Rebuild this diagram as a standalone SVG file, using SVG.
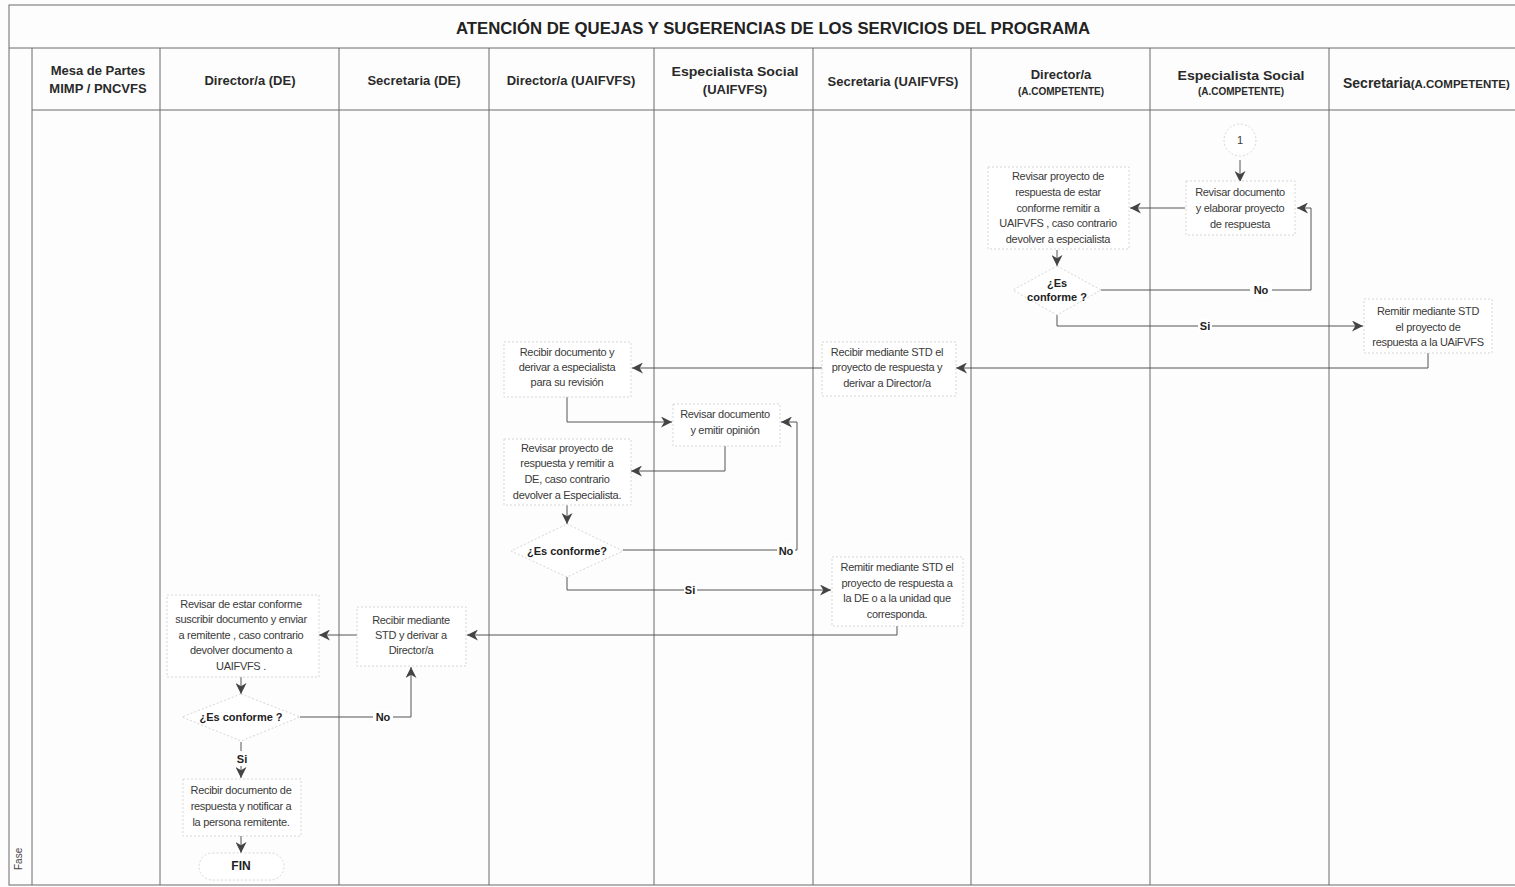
<svg xmlns="http://www.w3.org/2000/svg" width="1515" height="887" viewBox="0 0 1515 887">
<style>
.lane{stroke:#6a6a6a;stroke-width:1;fill:none}
.hd{font-family:"Liberation Sans",Arial,sans-serif;font-weight:bold;font-size:13px;fill:#2a2a2a;text-anchor:middle}
.hl{font-family:"Liberation Sans",Arial,sans-serif;font-weight:bold;font-size:14px;fill:#2a2a2a;text-anchor:start}
.hs{font-family:"Liberation Sans",Arial,sans-serif;font-weight:bold;font-size:10px;fill:#2a2a2a}
.hs2{font-family:"Liberation Sans",Arial,sans-serif;font-weight:bold;font-size:11.5px;fill:#2a2a2a}
.tt{font-family:"Liberation Sans",Arial,sans-serif;font-weight:bold;font-size:16px;fill:#222;text-anchor:middle}
.box{fill:#fff;stroke:#d6d6d6;stroke-width:1;stroke-dasharray:2 2}
.tx{font-family:"Liberation Sans",Arial,sans-serif;font-size:11px;fill:#3a3a3a;text-anchor:middle;letter-spacing:-0.3px}
.dt{font-family:"Liberation Sans",Arial,sans-serif;font-size:11px;font-weight:bold;fill:#222;text-anchor:middle}
.fin{font-family:"Liberation Sans",Arial,sans-serif;font-size:12px;font-weight:bold;fill:#222;text-anchor:middle}
.cn{fill:none;stroke:#555;stroke-width:1}
.ar{marker-end:url(#ah)}
.lb{font-family:"Liberation Sans",Arial,sans-serif;font-size:11px;font-weight:bold;fill:#222;text-anchor:middle}
.lbg{fill:#fff}
.fase{font-family:"Liberation Sans",Arial,sans-serif;font-size:10px;fill:#444}
</style>
<defs>
<marker id="ah" viewBox="0 0 10 10" refX="10" refY="5" markerWidth="11" markerHeight="11" markerUnits="userSpaceOnUse" orient="auto">
<path d="M0,0 L10,5 L0,10 L3,5 z" fill="#444"/>
</marker>
</defs>
<rect x="0" y="0" width="1515" height="887" fill="#fdfdfd"/>
<g id="frame">
<rect x="9" y="5" width="1520" height="880" class="lane"/>
<line x1="9" y1="48" x2="1515" y2="48" class="lane"/>
<line x1="32" y1="110" x2="1515" y2="110" class="lane"/>
<line x1="32" y1="48" x2="32" y2="885" class="lane"/>
<line x1="160" y1="48" x2="160" y2="885" class="lane"/>
<line x1="339" y1="48" x2="339" y2="885" class="lane"/>
<line x1="489" y1="48" x2="489" y2="885" class="lane"/>
<line x1="654" y1="48" x2="654" y2="885" class="lane"/>
<line x1="813" y1="48" x2="813" y2="885" class="lane"/>
<line x1="971" y1="48" x2="971" y2="885" class="lane"/>
<line x1="1150" y1="48" x2="1150" y2="885" class="lane"/>
<line x1="1329" y1="48" x2="1329" y2="885" class="lane"/>
</g>
<g id="header">
<text x="773" y="34" class="tt" textLength="634" lengthAdjust="spacingAndGlyphs">ATENCIÓN DE QUEJAS Y SUGERENCIAS DE LOS SERVICIOS DEL PROGRAMA</text>
<text x="98" y="75" class="hd">Mesa de Partes</text>
<text x="98" y="93" class="hd">MIMP / PNCVFS</text>
<text x="250" y="85" class="hd">Director/a (DE)</text>
<text x="414" y="85" class="hd">Secretaria (DE)</text>
<text x="571" y="85" class="hd">Director/a (UAIFVFS)</text>
<text x="735" y="76" class="hd" textLength="127" lengthAdjust="spacingAndGlyphs">Especialista Social</text>
<text x="735" y="94" class="hd">(UAIFVFS)</text>
<text x="893" y="86" class="hd">Secretaria (UAIFVFS)</text>
<text x="1061" y="79" class="hd">Director/a</text>
<text x="1061" y="95" class="hs" text-anchor="middle">(A.COMPETENTE)</text>
<text x="1241" y="80" class="hd" textLength="127" lengthAdjust="spacingAndGlyphs">Especialista Social</text>
<text x="1241" y="95" class="hs" text-anchor="middle">(A.COMPETENTE)</text>
<text x="1343" y="88" class="hl">Secretaria<tspan class="hs2">(A.COMPETENTE)</tspan></text>
<text x="22" y="870" transform="rotate(-90 22 870)" class="fase">Fase</text>
</g>
<g id="connectors">
<line x1="1240" y1="160" x2="1240" y2="182" class="cn ar"/>
<line x1="1185" y1="208" x2="1130" y2="208" class="cn ar"/>
<line x1="1057" y1="250" x2="1057" y2="266" class="cn ar"/>
<polyline points="1101,290 1311,290 1311,208 1297,208" class="cn ar"/>
<polyline points="1057,315 1057,326 1363,326" class="cn ar"/>
<polyline points="1428,353 1428,368 956,368" class="cn ar"/>
<line x1="822" y1="368" x2="632" y2="368" class="cn ar"/>
<polyline points="567,397 567,422 672,422" class="cn ar"/>
<polyline points="725,446 725,471 631,471" class="cn ar"/>
<line x1="567" y1="505" x2="567" y2="524" class="cn ar"/>
<polyline points="623,550 797,550 797,422 781,422" class="cn ar"/>
<polyline points="567,577 567,590 831,590" class="cn ar"/>
<polyline points="897,626 897,635 467,635" class="cn ar"/>
<line x1="357" y1="635" x2="319" y2="635" class="cn ar"/>
<line x1="241" y1="677" x2="241" y2="694" class="cn ar"/>
<polyline points="300,717 411,717 411,667" class="cn ar"/>
<line x1="241" y1="742" x2="241" y2="751" class="cn"/>
<line x1="241" y1="766" x2="241" y2="778" class="cn ar"/>
<line x1="241" y1="836" x2="241" y2="853" class="cn ar"/>
<rect x="1250" y="283" width="22" height="14" class="lbg"/>
<text x="1261" y="294" class="lb">No</text>
<rect x="1198" y="319" width="14" height="14" class="lbg"/>
<text x="1205" y="330" class="lb">Si</text>
<rect x="777" y="543" width="18" height="14" class="lbg"/>
<text x="786" y="555" class="lb">No</text>
<rect x="684" y="583" width="13" height="14" class="lbg"/>
<text x="690" y="594" class="lb">Si</text>
<rect x="373" y="710" width="20" height="14" class="lbg"/>
<text x="383" y="721" class="lb">No</text>
<text x="242" y="763" class="lb">Si</text>
</g>
<g id="n_start">
<circle cx="1240" cy="140" r="16" class="box"/>
<text x="1240" y="144" class="tx">1</text>
</g>
<g id="n_esp_ac">
<rect x="1186" y="181" width="109" height="54" class="box"/>
<text class="tx"><tspan x="1240" y="196">Revisar documento</tspan><tspan x="1240" y="212">y elaborar proyecto</tspan><tspan x="1240" y="228">de respuesta</tspan></text>
</g>
<g id="n_dir_ac">
<rect x="988" y="167" width="141" height="82" class="box"/>
<text class="tx"><tspan x="1058" y="180">Revisar proyecto de</tspan><tspan x="1058" y="196">respuesta de estar</tspan><tspan x="1058" y="212">conforme remitir a</tspan><tspan x="1058" y="227">UAIFVFS , caso contrario</tspan><tspan x="1058" y="243">devolver a especialista</tspan></text>
</g>
<g id="d_ac">
<polygon points="1057,266 1101,290 1057,315 1013,290" class="box"/>
<text class="dt"><tspan x="1057" y="287">¿Es</tspan><tspan x="1057" y="301">conforme ?</tspan></text>
</g>
<g id="n_sec_ac">
<rect x="1364" y="299" width="128" height="54" class="box"/>
<text class="tx"><tspan x="1428" y="315">Remitir mediante STD</tspan><tspan x="1428" y="331">el proyecto de</tspan><tspan x="1428" y="346">respuesta a la UAiFVFS</tspan></text>
</g>
<g id="n_sec_u">
<rect x="822" y="342" width="134" height="54" class="box"/>
<text class="tx"><tspan x="887" y="356">Recibir mediante STD el</tspan><tspan x="887" y="371">proyecto de respuesta y</tspan><tspan x="887" y="387">derivar a Director/a</tspan></text>
</g>
<g id="n_dir_u1">
<rect x="504" y="342" width="127" height="55" class="box"/>
<text class="tx"><tspan x="567" y="356">Recibir documento y</tspan><tspan x="567" y="371">derivar a especialista</tspan><tspan x="567" y="386">para su revisión</tspan></text>
</g>
<g id="n_esp_u">
<rect x="673" y="404" width="107" height="42" class="box"/>
<text class="tx"><tspan x="725" y="418">Revisar documento</tspan><tspan x="725" y="434">y emitir opinión</tspan></text>
</g>
<g id="n_dir_u2">
<rect x="504" y="439" width="127" height="66" class="box"/>
<text class="tx"><tspan x="567" y="452">Revisar proyecto de</tspan><tspan x="567" y="467">respuesta y remitir a</tspan><tspan x="567" y="483">DE, caso contrario</tspan><tspan x="567" y="499">devolver a Especialista.</tspan></text>
</g>
<g id="d_u">
<polygon points="567,524 623,551 567,577 511,551" class="box"/>
<text x="567" y="555" class="dt">¿Es conforme?</text>
</g>
<g id="n_sec_u2">
<rect x="832" y="557" width="131" height="69" class="box"/>
<text class="tx"><tspan x="897" y="571">Remitir mediante STD el</tspan><tspan x="897" y="587">proyecto de respuesta a</tspan><tspan x="897" y="602">la DE o a la unidad que</tspan><tspan x="897" y="618">corresponda.</tspan></text>
</g>
<g id="n_sec_de">
<rect x="357" y="607" width="109" height="59" class="box"/>
<text class="tx"><tspan x="411" y="624">Recibir mediante</tspan><tspan x="411" y="639">STD y derivar a</tspan><tspan x="411" y="654">Director/a</tspan></text>
</g>
<g id="n_dir_de">
<rect x="167" y="595" width="152" height="82" class="box"/>
<text class="tx"><tspan x="241" y="608">Revisar de estar conforme</tspan><tspan x="241" y="623">suscribir documento y enviar</tspan><tspan x="241" y="639">a remitente , caso contrario</tspan><tspan x="241" y="654">devolver documento a</tspan><tspan x="241" y="670">UAIFVFS .</tspan></text>
</g>
<g id="d_de">
<polygon points="241,694 300,717 241,741 182,717" class="box"/>
<text x="241" y="721" class="dt">¿Es conforme ?</text>
</g>
<g id="n_fin_act">
<rect x="183" y="779" width="118" height="57" class="box"/>
<text class="tx"><tspan x="241" y="794">Recibir documento de</tspan><tspan x="241" y="810">respuesta y notificar a</tspan><tspan x="241" y="826">la persona remitente.</tspan></text>
</g>
<g id="n_fin">
<rect x="199" y="853" width="85" height="27" rx="13.5" class="box"/>
<text x="241" y="870" class="fin">FIN</text>
</g>
</svg>
